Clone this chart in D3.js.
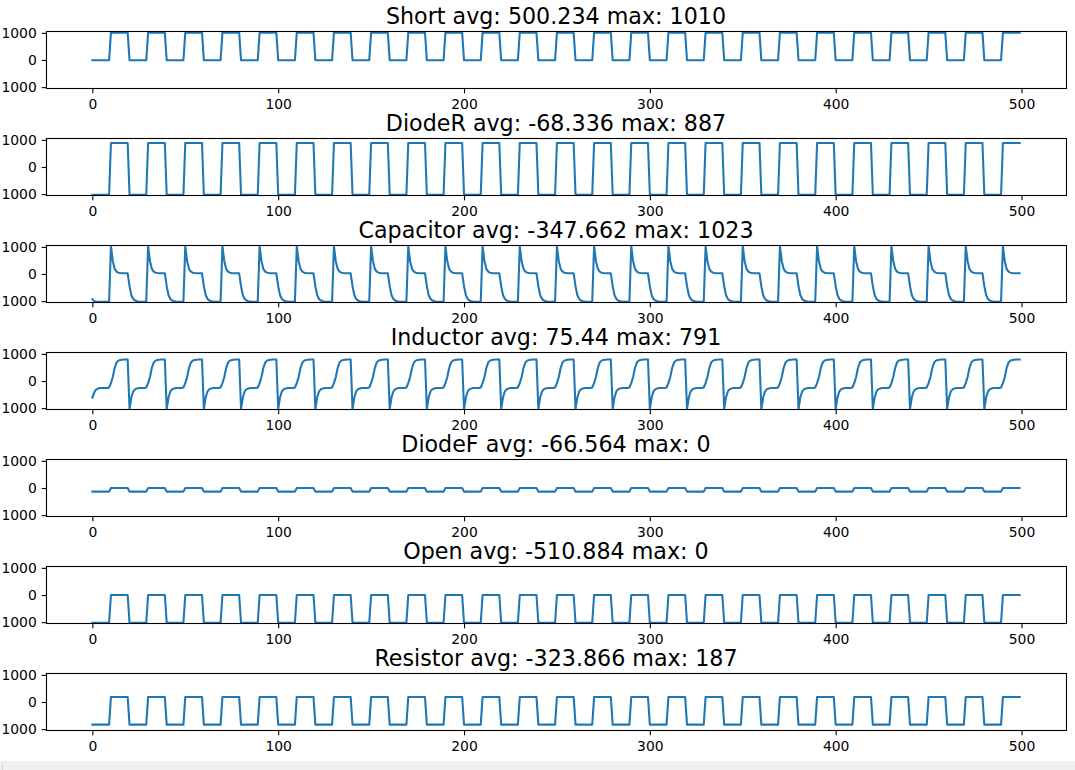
<!DOCTYPE html>
<html><head><meta charset="utf-8">
<script src="https://cdn.jsdelivr.net/npm/d3@7"></script>
<style>html,body{margin:0;padding:0;background:#fff;overflow:hidden}</style>
</head><body><svg id="c" width="1075" height="770"></svg>
<script>
const titles = ["Short avg: 500.234 max: 1010","DiodeR avg: -68.336 max: 887","Capacitor avg: -347.662 max: 1023","Inductor avg: 75.44 max: 791","DiodeF avg: -66.564 max: 0","Open avg: -510.884 max: 0","Resistor avg: -323.866 max: 187"];
const xTicks = [0,100,200,300,400,500];
const yTicks = [-1000,0,1000];
const xDomain = [-24.95, 523.95];
const yDomain = [-1050, 1050];

// breakpoints (sample index) of the square-wave series
const edgeX = [0,9,10,19,20,29,30,39,40,49,50,59,60,69,70,79,80,89,90,99,
100,109,110,119,120,129,130,139,140,149,150,159,160,169,170,179,180,189,190,199,
200,209,210,219,220,229,230,239,240,249,250,259,260,269,270,279,280,289,290,299,
300,309,310,319,320,329,330,339,340,349,350,359,360,369,370,379,380,389,390,399,
400,409,410,419,420,429,430,439,440,449,450,459,460,469,470,479,480,489,490,499];

const shortY = [-9,-9,1010,1010,-9,-9,1010,1010,-9,-9,1010,1010,-9,-9,1010,1010,-9,-9,1010,1010,
-9,-9,1010,1010,-9,-9,1010,1010,-9,-9,1010,1010,-9,-9,1010,1010,-9,-9,1010,1010,
-9,-9,1010,1010,-9,-9,1010,1010,-9,-9,1010,1010,-9,-9,1010,1010,-9,-9,1010,1010,
-9,-9,1010,1010,-9,-9,1010,1010,-9,-9,1010,1010,-9,-9,1010,1010,-9,-9,1010,1010,
-9,-9,1010,1010,-9,-9,1010,1010,-9,-9,1010,1010,-9,-9,1010,1010,-9,-9,1010,1010];

const diodeRY = [-1024,-1024,887,887,-1024,-1024,887,887,-1024,-1024,887,887,-1024,-1024,887,887,-1024,-1024,887,887,
-1024,-1024,887,887,-1024,-1024,887,887,-1024,-1024,887,887,-1024,-1024,887,887,-1024,-1024,887,887,
-1024,-1024,887,887,-1024,-1024,887,887,-1024,-1024,887,887,-1024,-1024,887,887,-1024,-1024,887,887,
-1024,-1024,887,887,-1024,-1024,887,887,-1024,-1024,887,887,-1024,-1024,887,887,-1024,-1024,887,887,
-1024,-1024,887,887,-1024,-1024,887,887,-1024,-1024,887,887,-1024,-1024,887,887,-1024,-1024,887,887];

const diodeFY = [-133,-133,0,0,-133,-133,0,0,-133,-133,0,0,-133,-133,0,0,-133,-133,0,0,
-133,-133,0,0,-133,-133,0,0,-133,-133,0,0,-133,-133,0,0,-133,-133,0,0,
-133,-133,0,0,-133,-133,0,0,-133,-133,0,0,-133,-133,0,0,-133,-133,0,0,
-133,-133,0,0,-133,-133,0,0,-133,-133,0,0,-133,-133,0,0,-133,-133,0,0,
-133,-133,0,0,-133,-133,0,0,-133,-133,0,0,-133,-133,0,0,-133,-133,0,0];

const openY = [-1022,-1022,0,0,-1022,-1022,0,0,-1022,-1022,0,0,-1022,-1022,0,0,-1022,-1022,0,0,
-1022,-1022,0,0,-1022,-1022,0,0,-1022,-1022,0,0,-1022,-1022,0,0,-1022,-1022,0,0,
-1022,-1022,0,0,-1022,-1022,0,0,-1022,-1022,0,0,-1022,-1022,0,0,-1022,-1022,0,0,
-1022,-1022,0,0,-1022,-1022,0,0,-1022,-1022,0,0,-1022,-1022,0,0,-1022,-1022,0,0,
-1022,-1022,0,0,-1022,-1022,0,0,-1022,-1022,0,0,-1022,-1022,0,0,-1022,-1022,0,0];

const resistorY = [-835,-835,187,187,-835,-835,187,187,-835,-835,187,187,-835,-835,187,187,-835,-835,187,187,
-835,-835,187,187,-835,-835,187,187,-835,-835,187,187,-835,-835,187,187,-835,-835,187,187,
-835,-835,187,187,-835,-835,187,187,-835,-835,187,187,-835,-835,187,187,-835,-835,187,187,
-835,-835,187,187,-835,-835,187,187,-835,-835,187,187,-835,-835,187,187,-835,-835,187,187,
-835,-835,187,187,-835,-835,187,187,-835,-835,187,187,-835,-835,187,187,-835,-835,187,187];

// full 500-sample series
const capacitorY = [-930,-1000,-1015,-1020,-1020,-1020,-1020,-1020,-1020,-1020,
1023,470,190,90,50,35,30,28,25,25,-450,-780,-920,-980,-1005,-1015,-1020,-1020,-1020,-1020,
1023,470,190,90,50,35,30,28,25,25,-450,-780,-920,-980,-1005,-1015,-1020,-1020,-1020,-1020,
1023,470,190,90,50,35,30,28,25,25,-450,-780,-920,-980,-1005,-1015,-1020,-1020,-1020,-1020,
1023,470,190,90,50,35,30,28,25,25,-450,-780,-920,-980,-1005,-1015,-1020,-1020,-1020,-1020,
1023,470,190,90,50,35,30,28,25,25,-450,-780,-920,-980,-1005,-1015,-1020,-1020,-1020,-1020,
1023,470,190,90,50,35,30,28,25,25,-450,-780,-920,-980,-1005,-1015,-1020,-1020,-1020,-1020,
1023,470,190,90,50,35,30,28,25,25,-450,-780,-920,-980,-1005,-1015,-1020,-1020,-1020,-1020,
1023,470,190,90,50,35,30,28,25,25,-450,-780,-920,-980,-1005,-1015,-1020,-1020,-1020,-1020,
1023,470,190,90,50,35,30,28,25,25,-450,-780,-920,-980,-1005,-1015,-1020,-1020,-1020,-1020,
1023,470,190,90,50,35,30,28,25,25,-450,-780,-920,-980,-1005,-1015,-1020,-1020,-1020,-1020,
1023,470,190,90,50,35,30,28,25,25,-450,-780,-920,-980,-1005,-1015,-1020,-1020,-1020,-1020,
1023,470,190,90,50,35,30,28,25,25,-450,-780,-920,-980,-1005,-1015,-1020,-1020,-1020,-1020,
1023,470,190,90,50,35,30,28,25,25,-450,-780,-920,-980,-1005,-1015,-1020,-1020,-1020,-1020,
1023,470,190,90,50,35,30,28,25,25,-450,-780,-920,-980,-1005,-1015,-1020,-1020,-1020,-1020,
1023,470,190,90,50,35,30,28,25,25,-450,-780,-920,-980,-1005,-1015,-1020,-1020,-1020,-1020,
1023,470,190,90,50,35,30,28,25,25,-450,-780,-920,-980,-1005,-1015,-1020,-1020,-1020,-1020,
1023,470,190,90,50,35,30,28,25,25,-450,-780,-920,-980,-1005,-1015,-1020,-1020,-1020,-1020,
1023,470,190,90,50,35,30,28,25,25,-450,-780,-920,-980,-1005,-1015,-1020,-1020,-1020,-1020,
1023,470,190,90,50,35,30,28,25,25,-450,-780,-920,-980,-1005,-1015,-1020,-1020,-1020,-1020,
1023,470,190,90,50,35,30,28,25,25,-450,-780,-920,-980,-1005,-1015,-1020,-1020,-1020,-1020,
1023,470,190,90,50,35,30,28,25,25,-450,-780,-920,-980,-1005,-1015,-1020,-1020,-1020,-1020,
1023,470,190,90,50,35,30,28,25,25,-450,-780,-920,-980,-1005,-1015,-1020,-1020,-1020,-1020,
1023,470,190,90,50,35,30,28,25,25,-450,-780,-920,-980,-1005,-1015,-1020,-1020,-1020,-1020,
1023,470,190,90,50,35,30,28,25,25,-450,-780,-920,-980,-1005,-1015,-1020,-1020,-1020,-1020,
1023,470,190,90,50,35,30,28,25,25];

const inductorY = [-615,-420,-320,-280,-260,-260,-260,-260,-260,-240,
-80,150,480,680,750,775,785,791,791,791,-1024,-600,-380,-300,-275,-260,-260,-260,-260,-240,
-80,150,480,680,750,775,785,791,791,791,-1024,-600,-380,-300,-275,-260,-260,-260,-260,-240,
-80,150,480,680,750,775,785,791,791,791,-1024,-600,-380,-300,-275,-260,-260,-260,-260,-240,
-80,150,480,680,750,775,785,791,791,791,-1024,-600,-380,-300,-275,-260,-260,-260,-260,-240,
-80,150,480,680,750,775,785,791,791,791,-1024,-600,-380,-300,-275,-260,-260,-260,-260,-240,
-80,150,480,680,750,775,785,791,791,791,-1024,-600,-380,-300,-275,-260,-260,-260,-260,-240,
-80,150,480,680,750,775,785,791,791,791,-1024,-600,-380,-300,-275,-260,-260,-260,-260,-240,
-80,150,480,680,750,775,785,791,791,791,-1024,-600,-380,-300,-275,-260,-260,-260,-260,-240,
-80,150,480,680,750,775,785,791,791,791,-1024,-600,-380,-300,-275,-260,-260,-260,-260,-240,
-80,150,480,680,750,775,785,791,791,791,-1024,-600,-380,-300,-275,-260,-260,-260,-260,-240,
-80,150,480,680,750,775,785,791,791,791,-1024,-600,-380,-300,-275,-260,-260,-260,-260,-240,
-80,150,480,680,750,775,785,791,791,791,-1024,-600,-380,-300,-275,-260,-260,-260,-260,-240,
-80,150,480,680,750,775,785,791,791,791,-1024,-600,-380,-300,-275,-260,-260,-260,-260,-240,
-80,150,480,680,750,775,785,791,791,791,-1024,-600,-380,-300,-275,-260,-260,-260,-260,-240,
-80,150,480,680,750,775,785,791,791,791,-1024,-600,-380,-300,-275,-260,-260,-260,-260,-240,
-80,150,480,680,750,775,785,791,791,791,-1024,-600,-380,-300,-275,-260,-260,-260,-260,-240,
-80,150,480,680,750,775,785,791,791,791,-1024,-600,-380,-300,-275,-260,-260,-260,-260,-240,
-80,150,480,680,750,775,785,791,791,791,-1024,-600,-380,-300,-275,-260,-260,-260,-260,-240,
-80,150,480,680,750,775,785,791,791,791,-1024,-600,-380,-300,-275,-260,-260,-260,-260,-240,
-80,150,480,680,750,775,785,791,791,791,-1024,-600,-380,-300,-275,-260,-260,-260,-260,-240,
-80,150,480,680,750,775,785,791,791,791,-1024,-600,-380,-300,-275,-260,-260,-260,-260,-240,
-80,150,480,680,750,775,785,791,791,791,-1024,-600,-380,-300,-275,-260,-260,-260,-260,-240,
-80,150,480,680,750,775,785,791,791,791,-1024,-600,-380,-300,-275,-260,-260,-260,-260,-240,
-80,150,480,680,750,775,785,791,791,791,-1024,-600,-380,-300,-275,-260,-260,-260,-260,-240,
-80,150,480,680,750,775,785,791,791,791];

const toPts = (xs, ys) => ys.map((v, i) => [xs ? xs[i] : i, v]);
const series = [
  toPts(edgeX, shortY),
  toPts(edgeX, diodeRY),
  toPts(null, capacitorY),
  toPts(null, inductorY),
  toPts(edgeX, diodeFY),
  toPts(edgeX, openY),
  toPts(edgeX, resistorY)
];

const svg = d3.select("#c");
const font = "DejaVu Sans, sans-serif";
const left = 46, right = 1066, firstTop = 31.5, step = 107, h = 57;
const x = d3.scaleLinear().domain(xDomain).range([left, right]);
const yfmt = d3.format("d");

series.forEach((pts, i) => {
  const top = firstTop + step * i;
  const y = d3.scaleLinear().domain(yDomain).range([top + h, top]);
  const g = svg.append("g");

  const line = d3.line().x(d => x(d[0])).y(d => y(d[1]));
  g.append("path").datum(pts).attr("d", line)
    .attr("fill", "none").attr("stroke", "#1f77b4")
    .attr("stroke-width", 2.08).attr("stroke-linejoin", "round").attr("stroke-linecap", "square");

  g.append("rect").attr("x", left + 0.5).attr("y", top).attr("width", right - left).attr("height", h)
    .attr("fill", "none").attr("stroke", "#000").attr("stroke-width", 1.1);

  const xa = g.append("g").attr("transform", `translate(0,${top + h})`)
    .call(d3.axisBottom(x).tickValues(xTicks).tickSize(4.86).tickPadding(5.8).tickFormat(yfmt));
  const ya = g.append("g").attr("transform", `translate(${left + 0.5},0)`)
    .call(d3.axisLeft(y).tickValues(yTicks).tickSize(4.86).tickPadding(4.86).tickFormat(yfmt));
  [xa, ya].forEach(a => {
    a.select(".domain").remove();
    a.selectAll("line").attr("stroke", "#000").attr("stroke-width", 1.1);
    a.selectAll("text").attr("fill", "#000").attr("font-family", font).attr("font-size", 13.9);
  });

  g.append("text").attr("x", (left + right) / 2).attr("y", top - 8)
    .attr("text-anchor", "middle").attr("font-family", font).attr("font-size", 22.2)
    .attr("fill", "#000").text(titles[i]);
});

svg.append("rect").attr("x", 0).attr("y", 761).attr("width", 1075).attr("height", 9).attr("fill", "#efefef");
svg.append("line").attr("x1", 2.5).attr("x2", 2.5).attr("y1", 763).attr("y2", 770).attr("stroke", "#d6d6d6");
</script></body></html>
